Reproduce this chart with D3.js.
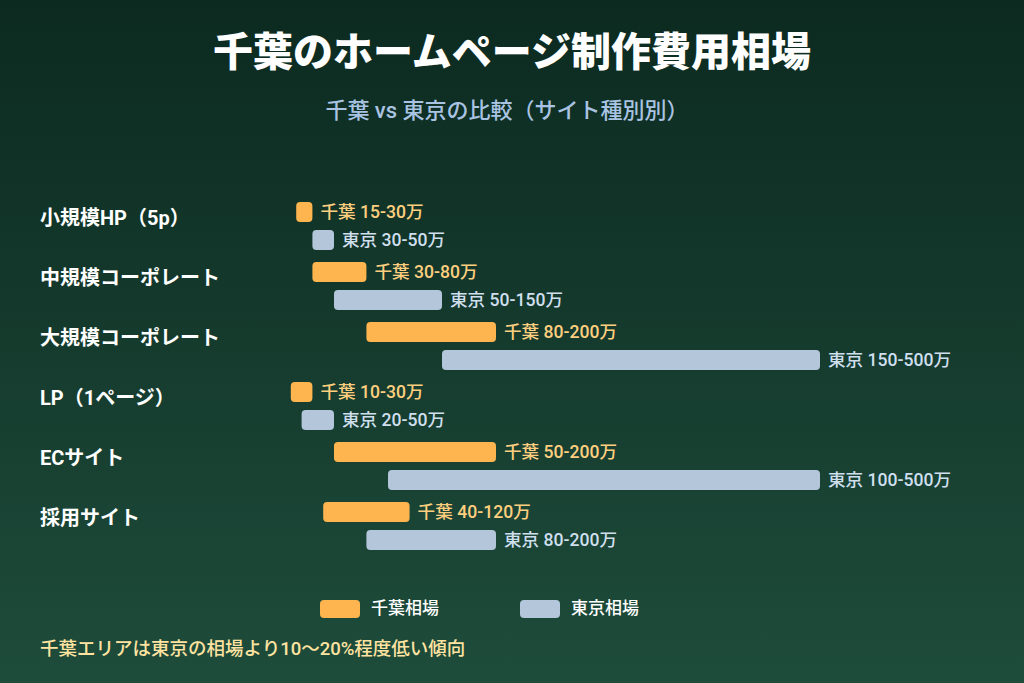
<!DOCTYPE html>
<html><head><meta charset="utf-8">
<script src="https://cdn.jsdelivr.net/npm/d3@7"></script>
<style>body{margin:0;background:#0d2a20;}svg{display:block;font-family:Roboto,"Noto Sans CJK JP",sans-serif;}</style>
</head><body>
<svg id="c" width="1024" height="683"></svg>
<script>
const categories = ["小規模HP（5p）","中規模コーポレート","大規模コーポレート","LP（1ページ）","ECサイト","採用サイト"];
const chibaMin = [15,30,80,10,50,40];
const chibaMax = [30,80,200,30,200,120];
const tokyoMin = [30,50,150,20,100,80];
const tokyoMax = [50,150,500,50,500,200];
const seriesNames = ["千葉相場","東京相場"];
const title = "千葉のホームページ制作費用相場";
const subtitle = "千葉 vs 東京の比較（サイト種別別）";
const note = "千葉エリアは東京の相場より10〜20%程度低い傾向";

const W=1024,H=683;
const svg=d3.select("#c");
const defs=svg.append("defs");
const g=defs.append("linearGradient").attr("id","bg").attr("x1",0).attr("y1",0).attr("x2",0).attr("y2",1);
g.append("stop").attr("offset","0%").attr("stop-color","#0c2a20");
g.append("stop").attr("offset","100%").attr("stop-color","#1e4c3b");
svg.append("rect").attr("width",W).attr("height",H).attr("fill","url(#bg)");

const x=d3.scaleLinear().domain([0,500]).range([280,820]);
const y=d3.scaleBand().domain(categories).range([190,550]);

svg.append("text").attr("x",512).attr("y",66).attr("text-anchor","middle").attr("fill","#fff")
  .attr("font-size",40).attr("font-weight",900).text(title);
svg.append("text").attr("x",507).attr("y",118).attr("text-anchor","middle").attr("fill","#a9c4e2")
  .attr("font-size",22).attr("font-weight",500).text(subtitle);

const orange="#ffb54f", blue="#b3c6da";
const rows=categories.map((c,i)=>({c,cm:chibaMin[i],cM:chibaMax[i],tm:tokyoMin[i],tM:tokyoMax[i]}));
const row=svg.append("g").selectAll("g").data(rows).join("g");
row.append("text").attr("x",40).attr("y",d=>y(d.c)+35).attr("fill","#fff").attr("font-size",20).attr("font-weight",700).text(d=>d.c);
row.append("rect").attr("x",d=>x(d.cm)).attr("y",d=>y(d.c)+12).attr("width",d=>x(d.cM)-x(d.cm)).attr("height",20).attr("rx",4).attr("fill",orange);
row.append("rect").attr("x",d=>x(d.tm)).attr("y",d=>y(d.c)+40).attr("width",d=>x(d.tM)-x(d.tm)).attr("height",20).attr("rx",4).attr("fill",blue);
row.append("text").attr("x",d=>x(d.cM)+8).attr("y",d=>y(d.c)+28).attr("fill","#ffcf7f").attr("font-size",17.6).attr("font-weight",500).text(d=>`千葉 ${d.cm}-${d.cM}万`);
row.append("text").attr("x",d=>x(d.tM)+8).attr("y",d=>y(d.c)+56).attr("fill","#cfdfee").attr("font-size",17.6).attr("font-weight",500).text(d=>`東京 ${d.tm}-${d.tM}万`);

const leg=svg.append("g").selectAll("g").data(seriesNames).join("g").attr("transform",(d,i)=>`translate(${320+i*200},600)`);
leg.append("rect").attr("width",40).attr("height",18).attr("rx",4).attr("fill",(d,i)=>i?blue:orange);
leg.append("text").attr("x",51).attr("y",14).attr("fill","#fff").attr("font-size",17).attr("font-weight",500).text(d=>d);

svg.append("text").attr("x",40).attr("y",655).attr("fill","#ffe3a0").attr("font-size",18.5).attr("font-weight",500).text(note);
</script>
</body></html>
